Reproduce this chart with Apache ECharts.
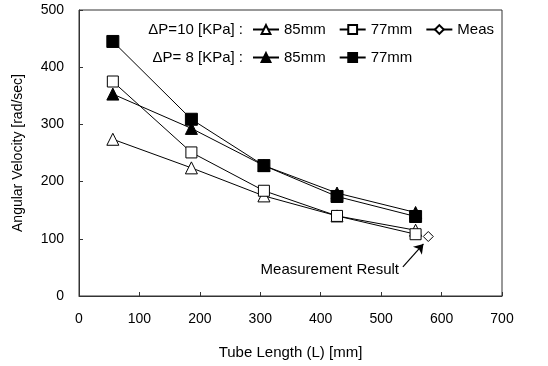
<!DOCTYPE html>
<html lang="en">
<head>
    <meta charset="UTF-8">
    <title>Angular Velocity vs Tube Length</title>
    <script src="https://cdn.jsdelivr.net/npm/echarts@6/dist/echarts.min.js"></script>
    <style>
        html, body { margin: 0; padding: 0; background: #fff; }
        #chart { width: 548px; height: 366px; }
    </style>
</head>
<body>
<div id="chart"></div>
<script>
    // tube lengths (mm)
    var lengths = [56, 186, 306, 427, 557];

    // dP = 10 kPa
    var p10_85 = [274, 224, 175, 140, 115];
    var p10_77 = [375, 251, 184, 140, 108];
    // dP = 8 kPa
    var p8_85 = [353, 293, 228, 180, 146];
    var p8_77 = [445, 309, 228, 174, 139];
    // measurement
    var meas = [[578, 104]];

    var arrowFrom = [536, 51];
    var arrowTo = [570, 91];
    var noteAt = [415, 45];

    var legendNames = {
        p10_85: '85mm', p10_77: '77mm', meas: 'Meas',
        p8_85: '85mm', p8_77: '77mm'
    };

    function pairs(ys) {
        var out = [];
        for (var i = 0; i < ys.length; i++) out.push([lengths[i], ys[i]]);
        return out;
    }

    function lineSeries(name, ys, symbol, size, fill) {
        return {
            name: name,
            type: 'line',
            data: pairs(ys),
            symbol: symbol,
            symbolSize: size,
            lineStyle: { color: '#000', width: 1 },
            itemStyle: { color: fill, borderColor: '#000', borderWidth: 1 },
            z: 3
        };
    }

    var font = 'Liberation Sans, Arial, sans-serif';
    var chart = echarts.init(document.getElementById('chart'));

    chart.setOption({
        animation: false,
        textStyle: { fontFamily: font, color: '#000' },
        grid: { left: 79, right: 46, top: 10, bottom: 70, show: true, borderColor: '#333', borderWidth: 1 },
        xAxis: {
            type: 'value', min: 0, max: 700, interval: 100,
            name: 'Tube Length (L) [mm]', nameLocation: 'middle', nameGap: 49,
            nameTextStyle: { fontSize: 15, color: '#000' },
            axisLine: { lineStyle: { color: '#333' } },
            axisTick: { inside: true, length: 4, lineStyle: { color: '#333' } },
            axisLabel: { fontSize: 14, color: '#000', margin: 16 },
            splitLine: { show: false }
        },
        yAxis: {
            type: 'value', min: 0, max: 500, interval: 100,
            name: 'Angular Velocity [rad/sec]', nameLocation: 'middle', nameGap: 54,
            nameTextStyle: { fontSize: 14, color: '#000' },
            axisLine: { show: true, lineStyle: { color: '#333' } },
            axisTick: { show: true, inside: true, length: 4, lineStyle: { color: '#333' } },
            axisLabel: { fontSize: 14, color: '#000', margin: 15 },
            splitLine: { show: false }
        },
        legend: [{
            left: 252, top: 22, padding: 0, itemWidth: 26, itemHeight: 11, itemGap: 13,
            data: ['p10_85', 'p10_77', 'meas'],
            formatter: function (n) { return legendNames[n]; },
            textStyle: { fontSize: 15, color: '#000', fontFamily: font },
            selectedMode: false
        }, {
            left: 252, top: 50, padding: 0, itemWidth: 26, itemHeight: 11, itemGap: 13,
            data: ['p8_85', 'p8_77'],
            formatter: function (n) { return legendNames[n]; },
            textStyle: { fontSize: 15, color: '#000', fontFamily: font },
            selectedMode: false
        }],
        graphic: [{
            type: 'text', right: 548 - 243, top: 22,
            style: { text: '\u0394P=10 [KPa] :', font: '15px ' + font, fill: '#000' }
        }, {
            type: 'text', right: 548 - 243, top: 50,
            style: { text: '\u0394P= 8 [KPa] :', font: '15px ' + font, fill: '#000' }
        }],
        series: [
            lineSeries('p10_85', p10_85, 'triangle', 12, '#fff'),
            lineSeries('p10_77', p10_77, 'rect', 11, '#fff'),
            lineSeries('p8_85', p8_85, 'triangle', 12, '#000'),
            lineSeries('p8_77', p8_77, 'rect', 12, '#000'),
            {
                name: 'meas',
                type: 'line',
                data: meas,
                symbol: 'diamond',
                symbolSize: 10,
                lineStyle: { color: '#000', width: 1 },
                itemStyle: { color: '#fff', borderColor: '#000', borderWidth: 1 },
                markLine: {
                    silent: true,
                    symbol: ['none', 'arrow'],
                    symbolSize: 9,
                    lineStyle: { color: '#000', width: 1.2, type: 'solid' },
                    label: { show: false },
                    data: [[{ coord: arrowFrom }, { coord: arrowTo }]]
                },
                markPoint: {
                    silent: true,
                    symbol: 'circle',
                    symbolSize: 0,
                    label: {
                        show: true, position: 'inside', color: '#000',
                        fontSize: 15, fontFamily: font,
                        formatter: 'Measurement Result'
                    },
                    data: [{ coord: noteAt }]
                }
            }
        ]
    });
</script>
</body>
</html>
